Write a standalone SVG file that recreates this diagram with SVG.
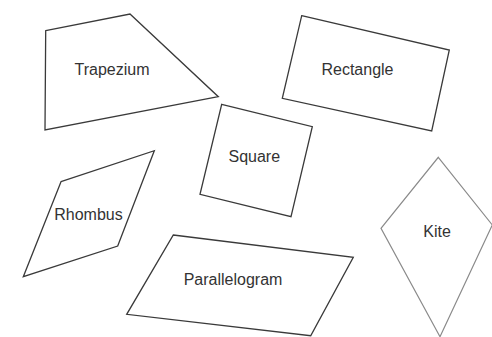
<svg xmlns="http://www.w3.org/2000/svg" width="492" height="337" viewBox="0 0 492 337">
<style>
.shape{fill:none;stroke:#3a3a3a;stroke-width:1.3;stroke-linejoin:miter}
.light{stroke:#8a8a8a;stroke-width:1.2}
.lbl{font-family:"Liberation Sans",Arial,sans-serif;font-size:16px;fill:#333;text-anchor:middle}
</style>
<rect width="492" height="337" fill="#fff"/>
<g id="trapezium">
<polygon class="shape" points="45.7,30.7 130,14 218.3,96.7 45,130"/>
<text class="lbl" x="112" y="75">Trapezium</text>
</g>
<g id="rectangle">
<polygon class="shape" points="301.7,15.7 449.3,50 431.7,131 282.3,98.3"/>
<text class="lbl" x="357.5" y="75">Rectangle</text>
</g>
<g id="square">
<polygon class="shape" points="221.7,104.3 312.3,126.7 291,216.7 200,194.3"/>
<text class="lbl" x="254.3" y="161.7">Square</text>
</g>
<g id="rhombus">
<polygon class="shape" points="61,181.7 154.3,150.7 117.7,246 23.3,276.7"/>
<text class="lbl" x="88.5" y="220">Rhombus</text>
</g>
<g id="parallelogram">
<polygon class="shape" points="173.3,235 353.3,257.3 310.7,335.7 126.7,314.3"/>
<text class="lbl" x="233" y="285">Parallelogram</text>
</g>
<g id="kite">
<polygon class="shape light" points="438.3,157.3 492.3,225 440,336.7 381,228.3"/>
<text class="lbl" x="437" y="237.3">Kite</text>
</g>
<g id="connectors"/>
</svg>
